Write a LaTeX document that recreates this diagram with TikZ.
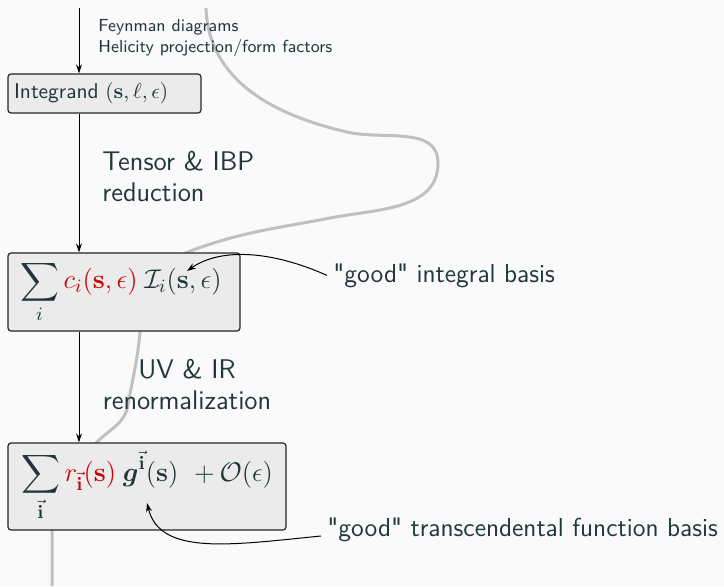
\RequirePackage{fix-cm}
\documentclass[tikz,border=0pt]{standalone}
\usepackage{amsmath,amssymb,bm}
\usetikzlibrary{arrows.meta}
\definecolor{bgc}{HTML}{FAFAFA}
\definecolor{boxfill}{HTML}{EBEBEB}
\definecolor{txt}{HTML}{23373B}
\definecolor{curvegray}{HTML}{C0C0C0}
\definecolor{myred}{HTML}{CC0000}
\begin{document}
\begin{tikzpicture}[x=0.5pt,y=0.5pt,
  every node/.style={text=txt, font=\sffamily},
  stagebox/.style={draw=black!85, fill=boxfill, line width=0.6pt, rounded corners=1.5pt, inner ysep=0pt, align=left},
  arr/.style={-{Stealth[length=4.5pt,width=3pt]}, line width=0.5pt, black},
  smalltxt/.style={font=\sffamily\fontsize{8.7}{10.5}\selectfont, inner sep=0pt},
  bigtxt/.style={font=\sffamily\fontsize{13.5}{16}\selectfont, inner sep=0pt},
  labeltxt/.style={font=\sffamily\fontsize{13}{15.6}\selectfont, inner ysep=0pt, inner xsep=3pt},
  flowline/.style={curvegray, line width=1.5pt}]
\useasboundingbox (0,0) rectangle (724,-586);
\fill[bgc] (0,0) rectangle (724,-586);

% gray curve behind boxes
\draw[flowline] (206,-8) to[out=-88,in=167] (347,-132)
  to[out=-13,in=90] (438,-163)
  to[out=-90,in=11] (330,-218)
  to[out=191,in=20] (193,-250)
  to[out=200,in=85] (140,-332)
  to[out=-95,in=80] (128,-405)
  to[out=-100,in=45] (97,-442)
  to[out=-135,in=90] (52,-530)
  -- (52,-586);

% boxes
\node[stagebox, inner xsep=3pt, text width=90.5pt, minimum height=19.5pt] (b1) at (104.5,-93.5)
  {\fontsize{10.7}{12}\selectfont Integrand $(\mathbf{s},\ell,\epsilon)$};
\node[stagebox, inner xsep=6pt, text width=104pt, minimum height=39pt] (b2) at (124,-292)
  {\fontsize{13.5}{15}\selectfont $\displaystyle\sum_i \textcolor{myred}{c_i(\mathbf{s},\epsilon)}\ \mathcal{I}_i(\mathbf{s},\epsilon)$};
\node[stagebox, inner xsep=6.5pt, text width=126pt, minimum height=43.5pt] (b3) at (147,-486.5)
  {\fontsize{13.5}{15}\selectfont $\displaystyle\sum_{\vec{\mathbf{i}}} \textcolor{myred}{r_{\vec{\mathbf{i}}}(\mathbf{s})}\ \bm{g}^{\vec{\mathbf{i}}}(\mathbf{s})\ \,+\mathcal{O}(\epsilon)$};

% main arrows
\coordinate (top) at (79,-8);
\draw[arr] (top) -- (top |- b1.north);
\draw[arr] (top |- b1.south) -- (top |- b2.north);
\draw[arr] (top |- b2.south) -- (top |- b3.north);

% step labels
\node[smalltxt, anchor=base west] (fd) at (98,-31) {Feynman diagrams};
\node[smalltxt, anchor=base west] (hp) at (98,-52) {Helicity projection/form factors};
\node[bigtxt, anchor=base west] (t1) at (102,-170) {Tensor \& IBP};
\node[bigtxt, anchor=base west] (t2) at (102,-201) {reduction};
\node[bigtxt, anchor=base] (u1) at (187,-378) {UV \& IR};
\node[bigtxt, anchor=base] (u2) at (187,-409) {renormalization};

% annotations
\node[labeltxt, anchor=base west] (gi) at (327,-282) {\textquotedbl good\textquotedbl{} integral basis};
\node[labeltxt, anchor=base west] (tf) at (321,-536) {\textquotedbl good\textquotedbl{} transcendental function basis};
\coordinate (ib) at (187,-271);
\coordinate (fb) at (147,-503);
\draw[arr] (gi.west) .. controls (270,-250) and (220,-248) .. (ib);
\draw[arr] (tf.base west) .. controls (230,-545) and (160,-556) .. (fb);
\end{tikzpicture}
\end{document}
